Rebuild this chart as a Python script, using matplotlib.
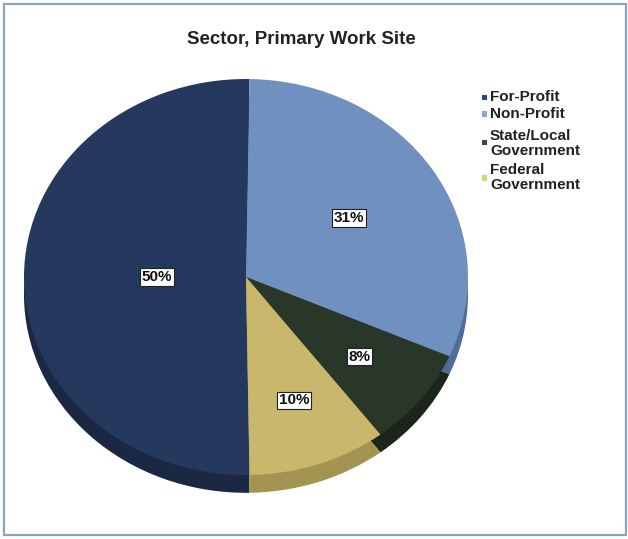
import matplotlib.pyplot as plt
from matplotlib.patches import Rectangle
import numpy as np

plt.rcParams['font.family'] = ['Liberation Sans', 'DejaVu Sans']

sectors = ['For-Profit', 'Non-Profit', 'State/Local\nGovernment', 'Federal\nGovernment']
shares = [50, 31, 8, 10]
pct_labels = ['50%', '31%', '8%', '10%']

top_colors = ['#25395f', '#7090c0', '#283727', '#c9b76c']
side_colors = ['#1a2843', '#4f6c98', '#1b251b', '#a39452']
legend_colors = ['#2b4a80', '#8fa6cc', '#3a4d3a', '#d6d36a']
label_radius = [0.40, 0.55, 0.65, 0.66]

W, H = 628, 539
fig = plt.figure(figsize=(W / 100, H / 100), dpi=100)

# outer chart frame
fig.patches.append(Rectangle((4 / W, 4 / H), 622 / W, 531 / H, transform=fig.transFigure,
                             fill=False, edgecolor='#8da2bb', linewidth=1.6))

fig.text(301 / W, 1 - 39 / H, 'Sector, Primary Work Site', ha='center', va='center',
         fontsize=13.5, fontweight='bold', color='#222222')

# tilted pie: axes stretched so the circle becomes an ellipse
cx, cy, rx, ry = 246, 277, 222, 198
ax = fig.add_axes([(cx - rx) / W, (H - cy - ry) / H, 2 * rx / W, 2 * ry / H])

# keep the first slice centred on the left side
start = 180 + 180 * shares[0] / sum(shares)
depth = 0.09
# side band of the 3-D pie, drawn as a lower copy underneath
side, _ = ax.pie(shares, colors=side_colors, startangle=start, counterclock=False,
                 center=(0, -depth), wedgeprops=dict(linewidth=0))
wedges, _ = ax.pie(shares, colors=top_colors, startangle=start, counterclock=False,
                   wedgeprops=dict(linewidth=0))
for w in side + wedges:
    w.set_clip_on(False)
ax.set_aspect('auto')
ax.set_xlim(-1, 1)
ax.set_ylim(-1, 1)
ax.axis('off')

for w, lab, r in zip(wedges, pct_labels, label_radius):
    mid = np.deg2rad((w.theta1 + w.theta2) / 2)
    ax.text(r * np.cos(mid), r * np.sin(mid), lab, ha='center', va='center',
            fontsize=11, fontweight='bold', color='#111111',
            bbox=dict(boxstyle='square,pad=0.12', facecolor='white', edgecolor='#222222', linewidth=0.8))

# legend drawn by hand: text top rows and marker rows in pixels from the top
text_rows = [90, 107, 129, 163]
marker_rows = [97, 114, 142, 178]
for name, c, ty, my in zip(sectors, legend_colors, text_rows, marker_rows):
    fig.patches.append(Rectangle(((484 - 2.5) / W, 1 - (my + 2.5) / H), 5 / W, 5 / H,
                                 transform=fig.transFigure, facecolor=c, edgecolor='none'))
    fig.text(490 / W, 1 - ty / H, name, ha='left', va='top', fontsize=11,
             fontweight='bold', color='#222222', linespacing=1.05)

fig.savefig('out.png', dpi=100)
